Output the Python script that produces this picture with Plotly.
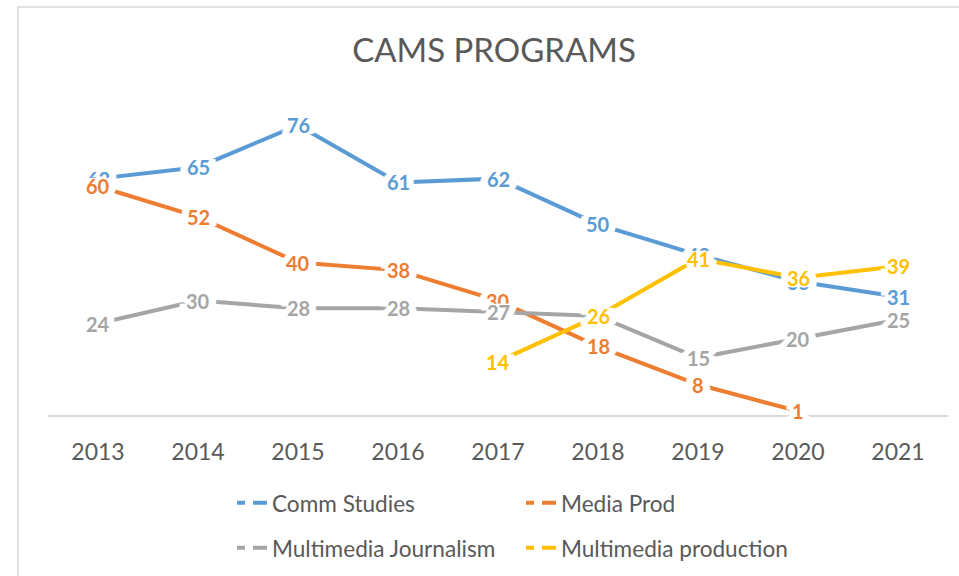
import plotly.graph_objects as go

years = ["2013", "2014", "2015", "2016", "2017", "2018", "2019", "2020", "2021"]
comm_studies = [62, 65, 76, 61, 62, 50, 42, 35, 31]
media_prod = [60, 52, 40, 38, 30, 18, 8, 1, None]
mm_journalism = [24, 30, 28, 28, 27, 26, 15, 20, 25]
mm_production = [None, None, None, None, 14, 26, 41, 36, 39]

series = [
    ("Comm Studies", comm_studies, "#5B9BD5", "legend"),
    ("Media Prod", media_prod, "#ED7D31", "legend"),
    ("Multimedia Journalism", mm_journalism, "#A5A5A5", "legend2"),
    ("Multimedia production", mm_production, "#FFC000", "legend2"),
]

FONT = "Lato, 'Liberation Sans', Arial, sans-serif"
TXT = "#595959"

# white halo around data labels (wide horizontally, thin vertically), which breaks
# the lines around the labels like the label boxes in the reference
halo_parts = []
for dx in (-7, -5, -3, -1, 1, 3, 5, 7):
    for dy in (-1, 0, 1):
        halo_parts.append(f"white {dx}px {dy}px 1px")
HALO = ", ".join(halo_parts)

fig = go.Figure()
annotations = []
for name, vals, color, lg in series:
    fig.add_trace(go.Scatter(
        x=years, y=vals, mode="lines", name=name, showlegend=False,
        line=dict(color=color, width=4), connectgaps=False, hoverinfo="x+y+name"))
    # legend-only sample (dashed, as in the reference legend)
    fig.add_trace(go.Scatter(
        x=[None], y=[None], mode="lines", name=name, legend=lg,
        line=dict(color=color, width=4, dash="8px,8px,14px")))
    for i, yv in enumerate(vals):
        if yv is None:
            continue
        annotations.append(dict(
            x=i, y=yv, xref="x", yref="y", text=f"<b>{yv}</b>", showarrow=False,
            font=dict(family=FONT, size=20, color=color, shadow=HALO),
            borderpad=0, xanchor="center", yanchor="middle"))

LEG_X = (232 - 48) / 900
H = 576
fig.update_layout(
    width=959, height=H,
    margin=dict(l=48, r=11, t=110, b=161, autoexpand=False),
    paper_bgcolor="white", plot_bgcolor="white",
    title=dict(text="CAMS PROGRAMS", x=0.4956, xref="paper", y=1 - 50 / H,
               yref="container", xanchor="center", yanchor="middle",
               font=dict(family=FONT, size=33, color=TXT)),
    xaxis=dict(type="category", range=[-0.5, 8.5], showgrid=False, zeroline=False,
               showline=True, linecolor="#D9D9D9", linewidth=1.5, ticks="",
               tickfont=dict(family=FONT, size=23, color=TXT), ticklabelstandoff=16),
    yaxis=dict(range=[0, 80], visible=False, showgrid=False, zeroline=False),
    legend=dict(orientation="h", x=LEG_X, xanchor="left",
                y=1 - 503 / H, yref="container", yanchor="middle", entrywidth=244,
                entrywidthmode="pixels", font=dict(family=FONT, size=22.6, color=TXT),
                bgcolor="rgba(0,0,0,0)"),
    legend2=dict(orientation="h", x=LEG_X, xanchor="left",
                 y=1 - 548 / H, yref="container", yanchor="middle", entrywidth=244,
                 entrywidthmode="pixels", font=dict(family=FONT, size=22.6, color=TXT),
                 bgcolor="rgba(0,0,0,0)"),
    annotations=annotations,
    shapes=[dict(type="rect", xref="paper", yref="paper",
                 x0=(18 - 48) / 900, x1=1.3, y0=-1.0, y1=(415 - 7) / 305,
                 line=dict(color="#D9D9D9", width=1.5), fillcolor="rgba(0,0,0,0)",
                 layer="below")],
)

fig.write_html(
    "out.html",
    config={"displayModeBar": False},
    post_script="document.body.style.margin='0';document.body.style.overflow='hidden';",
)
